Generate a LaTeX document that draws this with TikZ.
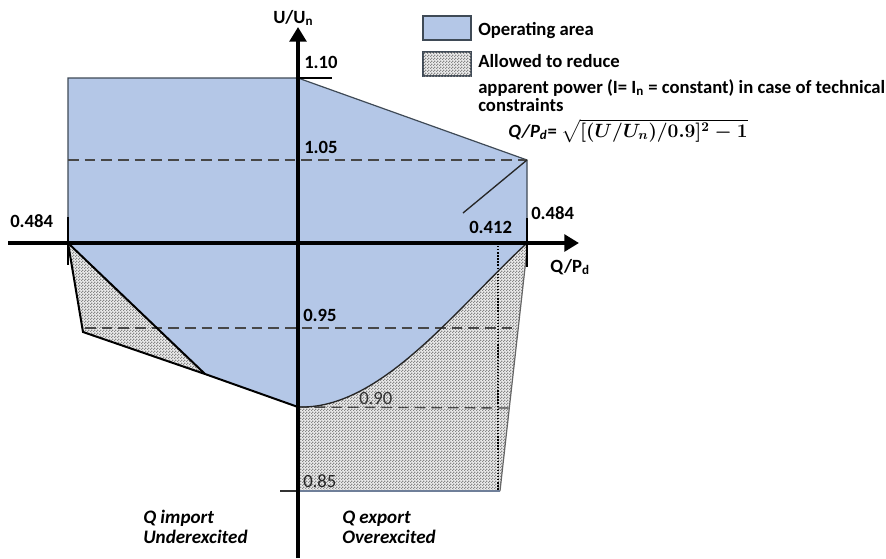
\documentclass[tikz,border=0pt]{standalone}
\usepackage{amsmath}
\usepackage{fontspec}
\setmainfont{Carlito}
\usetikzlibrary{arrows.meta,patterns,patterns.meta}
\definecolor{opblue}{HTML}{B4C7E7}
\definecolor{edgegray}{HTML}{3F4A56}
\definecolor{botblue}{HTML}{6F7F99}
\newcommand{\myformulaexpr}{\ensuremath{\boldsymbol{\sqrt{\lbrack(U/U_n)/0.9\rbrack^2-1}}}}
\tikzdeclarepattern{name=finecheck,type=uncolored,bounding box={(0pt,0pt) and (2pt,2pt)},tile size={(2pt,2pt)},code={\fill (0pt,0pt) rectangle (1pt,1pt); \fill (1pt,1pt) rectangle (2pt,2pt);}}
\begin{document}
\begin{tikzpicture}[x=0.75pt,y=-0.75pt,
  font=\fontsize{14}{16}\selectfont\bfseries,
  axis/.style={line width=3.2pt,-{Triangle[length=11pt,width=12.5pt]}},
  thinedge/.style={draw=edgegray,line width=0.9pt},
  heavy/.style={draw=black,line width=1.5pt},
  dashline/.style={draw=black!72,line width=1pt,dash pattern=on 8pt off 4.5pt},
  dotline/.style={draw=black,line width=1.1pt,dash pattern=on 1pt off 1.3pt},
  hatchfill/.style={fill=gray!15,postaction={pattern=finecheck,pattern color=gray!95}},
  lbl/.style={anchor=base west,inner sep=0pt},
  itlbl/.style={lbl,font=\fontsize{14.3}{16}\selectfont\bfseries\itshape},
  legbox/.style={draw=edgegray,line width=1.1pt,minimum width=36pt,minimum height=18pt,inner sep=0pt}]
\useasboundingbox (0,0) rectangle (886,558);
% key points
\coordinate (tl) at (68,78);
\coordinate (t110) at (298,78);
\coordinate (p105) at (527,160);
\coordinate (r0) at (527,243);
\coordinate (r1) at (527,250);
\coordinate (b90) at (298,407);
\coordinate (lk) at (205,374);
\coordinate (l0) at (68,243);
\coordinate (lo) at (83,332);
\coordinate (br) at (500,491);
\coordinate (b85) at (298,491);
% operating area
\fill[opblue] (tl) -- (t110) -- (p105) -- (r0) .. controls (455,310) and (380,410) .. (b90) -- (lk) -- (l0) -- cycle;
\draw[thinedge] (l0) -- (tl) -- (t110) -- (p105) -- (r0);
% hatched areas
\path[hatchfill] (l0) -- (lo) -- (lk) -- cycle;
\path[hatchfill] (b90) .. controls (380,410) and (455,310) .. (r0) -- (r1) -- (br) -- (b85) -- cycle;
% dashed levels
\coordinate (d105a) at (68,160);
\draw[dashline] (d105a) -- (p105);
\coordinate (d95a) at (85,328);
\coordinate (d95b) at (518,328);
\draw[dashline] (d95a) -- (d95b);
\coordinate (d90b) at (510,408);
\draw[dashline] (b90) -- (d90b);
% dotted 0.412
\coordinate (q412a) at (498,243);
\coordinate (q412b) at (498,491);
\draw[dotline] (q412a) -- (q412b);
% boundaries
\draw[heavy] (l0) -- (lo) -- (lk);
\draw[heavy] (l0) -- (lk) -- (b90);
\draw[draw=black!85,line width=1pt] (b90) .. controls (380,410) and (455,310) .. (r0);
\draw[draw=gray!80!black,line width=0.9pt] (r1) -- (br);
\draw[draw=botblue,line width=0.9pt] (b85) -- (br);
\coordinate (dg) at (463,213);
\draw[draw=black!85,line width=1pt] (p105) -- (dg);
% ticks
\coordinate (t110e) at (332,78);
\draw[draw=black,line width=0.9pt] (t110) -- (t110e);
\coordinate (t85s) at (280,491);
\draw[draw=black!80,line width=0.9pt] (t85s) -- (b85);
\coordinate (tlA) at (68,217);
\coordinate (tlB) at (68,265);
\draw[heavy] (tlA) -- (tlB);
\coordinate (trA) at (527,218);
\coordinate (trB) at (527,267);
\draw[heavy] (trA) -- (trB);
% axes
\coordinate (xs) at (8,243);
\coordinate (xe) at (579,243);
\draw[axis] (xs) -- (xe);
\coordinate (ys) at (298,558);
\coordinate (ye) at (298,27);
\draw[axis] (ys) -- (ye);
% axis labels
\node[lbl] (lU) at (273,23) {U/U\textsubscript{n}};
\node[lbl] (lQ) at (550,272) {Q/P\textsubscript{d}};
% level labels
\node[lbl] (n110) at (304,68) {1.10};
\node[lbl] (n105) at (304,153) {1.05};
\node[lbl] (n95) at (303,321) {0.95};
\node[lbl,font=\fontsize{14}{16}\selectfont,text=black!80] (n90) at (359,404) {0.90};
\node[lbl,font=\fontsize{14}{16}\selectfont,text=black!85] (n85) at (303,487) {0.85};
\node[lbl] (n412) at (469,233) {0.412};
\node[lbl] (n484r) at (531,219) {0.484};
\node[lbl] (n484l) at (10,227) {0.484};
% legend
\node[legbox,fill=opblue] (kb) at (447,28) {};
\node[legbox,hatchfill] (kh) at (447,64) {};
\node[lbl] (t1) at (478,35) {Operating area};
\node[lbl] (t2) at (478,67) {Allowed to reduce};
\node[lbl] (t3) at (478,93) {apparent power (I= I\textsubscript{n} = constant) in case of technical};
\node[lbl] (t4) at (478,111) {constraints};
\node[lbl,font=\fontsize{14}{16}\selectfont\bfseries\boldmath] (fml) at (508,137) {\textit{Q/P\textsubscript{d}}= \myformulaexpr};
% quadrant labels
\node[itlbl] (qi1) at (143,523) {Q import};
\node[itlbl] (qi2) at (143,543) {Underexcited};
\node[itlbl] (qe1) at (342,523) {Q export};
\node[itlbl] (qe2) at (342,543) {Overexcited};
\end{tikzpicture}
\end{document}
